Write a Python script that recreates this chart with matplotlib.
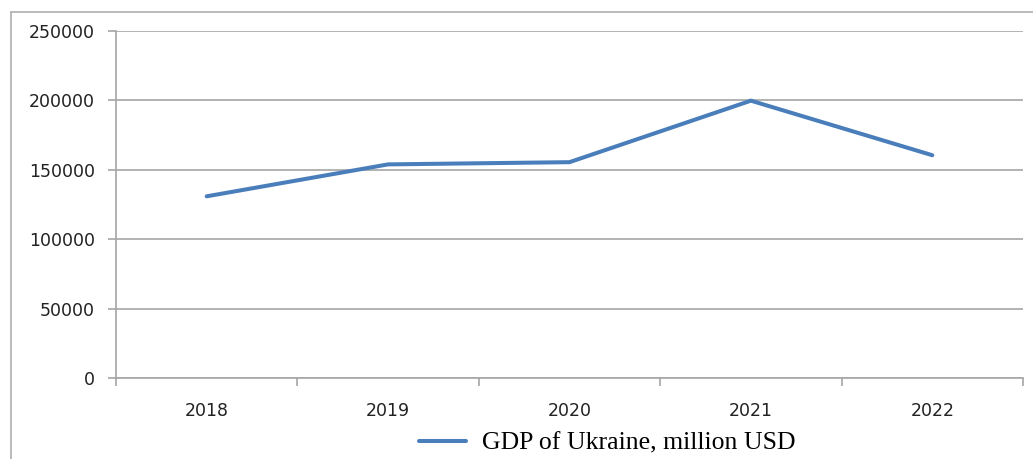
import matplotlib
matplotlib.use("Agg")
import matplotlib.pyplot as plt
from matplotlib.lines import Line2D

years = ["2018", "2019", "2020", "2021", "2022"]
gdp = [130900, 153900, 155500, 199800, 160500]
yticks = [0, 50000, 100000, 150000, 200000, 250000]

blue = "#4a7ebb"
grey = "#a6a6a6"

fig = plt.figure(figsize=(10.33, 4.59), dpi=100)
ax = fig.add_axes([116/1033, 1-378/459, (1023-116)/1033, (378-31)/459])

x = list(range(len(years)))
ax.plot(x, gdp, color=blue, lw=2.9, solid_capstyle="round", solid_joinstyle="miter",
        label="GDP of Ukraine, million USD", zorder=3)

ax.set_xlim(-0.5, len(years)-0.5)
ax.set_ylim(0, 250000)
ax.set_yticks(yticks)
ax.set_yticklabels([str(v) for v in yticks])
ax.yaxis.grid(True, color=grey, lw=1.2)
ax.set_axisbelow(True)

# category ticks sit between the years
ax.set_xticks([i - 0.5 for i in range(len(years)+1)])
ax.set_xticklabels([])
ax.set_xticks(x, minor=True)
ax.set_xticklabels(years, minor=True)
ax.tick_params(axis="x", which="major", length=6, width=1.2, color=grey, direction="out")
ax.tick_params(axis="x", which="minor", length=0, pad=17, labelsize=12.5, labelcolor="#222222")
ax.tick_params(axis="y", length=6, width=1.2, color=grey, pad=9, labelsize=12.5, labelcolor="#222222")

for s in ["top", "right"]:
    ax.spines[s].set_visible(False)
for s in ["left", "bottom"]:
    ax.spines[s].set_color(grey)
    ax.spines[s].set_linewidth(1.2)

# outer chart frame (cut at right and bottom)
fig.add_artist(Line2D([10.5/1033, 10.5/1033], [0, 1-12/459], color="#b5b5b5", lw=1.3,
                      transform=fig.transFigure))
fig.add_artist(Line2D([10.5/1033, 1], [1-12/459, 1-12/459], color="#b5b5b5", lw=1.3,
                      transform=fig.transFigure))

leg = fig.legend(loc="center", bbox_to_anchor=(607/1033, 1-443/459), frameon=False,
                 prop={"family": "Liberation Serif", "size": 18.5}, handlelength=1.85,
                 handletextpad=0.62)

fig.savefig("out.png", dpi=100)
